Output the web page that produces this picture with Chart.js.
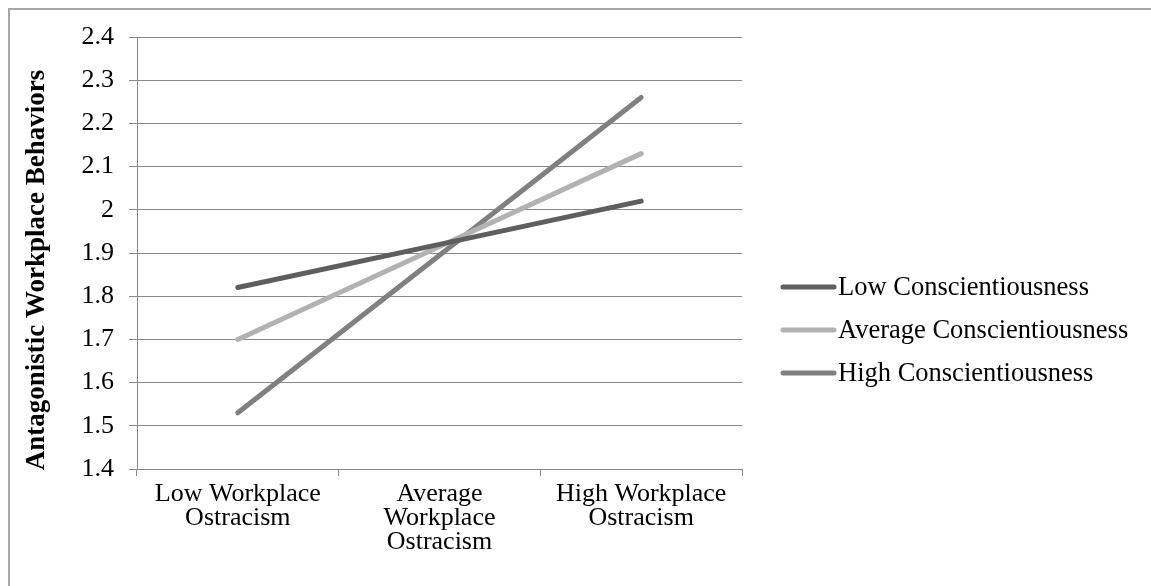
<!DOCTYPE html>
<html>
<head>
<meta charset="utf-8">
<script src="https://cdn.jsdelivr.net/npm/chart.js@4.4.1/dist/chart.umd.min.js"></script>
<style>
  html, body { margin: 0; padding: 0; background: #fff; }
  #wrap { position: relative; width: 1151px; height: 586px; overflow: hidden; }
  #frame { position: absolute; left: 8px; top: 8px; width: 1200px; height: 700px;
           border-left: 2px solid #a6a6a6; border-top: 2px solid #a6a6a6; box-sizing: border-box; }
  canvas { position: absolute; left: 0; top: 0; }
</style>
</head>
<body>
<div id="wrap">
  <div id="frame"></div>
  <canvas id="c" width="1151" height="586"></canvas>
</div>
<script>
// Categories (x axis) and the three moderator lines
const categories = [
  ['Low Workplace', 'Ostracism'],
  ['Average', 'Workplace', 'Ostracism'],
  ['High Workplace', 'Ostracism']
];
const seriesNames = ['Low Conscientiousness', 'Average Conscientiousness', 'High Conscientiousness'];
const lowValues = [1.82, 1.92, 2.02];
const averageValues = [1.70, 1.915, 2.13];
const highValues = [1.53, 1.895, 2.26];
const yTickLabels = ['1.4', '1.5', '1.6', '1.7', '1.8', '1.9', '2', '2.1', '2.2', '2.3', '2.4'];
const yTitle = 'Antagonistic Workplace Behaviors';

const FONT = '"Liberation Serif", "Times New Roman", serif';
const GRID = '#8a8a8a';
const colors = ['#5e5e5e', '#b2b2b2', '#808080'];

// Legend to the right of the plot, one line sample per series
const sideLegend = {
  id: 'sideLegend',
  afterDraw(chart) {
    const ctx = chart.ctx;
    ctx.save();
    chart.data.datasets.forEach((ds, i) => {
      const y = 287 + i * 43;
      ctx.strokeStyle = ds.borderColor;
      ctx.lineWidth = 5;
      ctx.lineCap = 'round';
      ctx.beginPath();
      ctx.moveTo(783, y);
      ctx.lineTo(834, y);
      ctx.stroke();
      ctx.fillStyle = '#000';
      ctx.font = '26.5px ' + FONT;
      ctx.textBaseline = 'middle';
      ctx.textAlign = 'left';
      ctx.fillText(ds.label, 838, y + 1);
    });
    ctx.restore();
  }
};

// Rotated value-axis title
const axisTitle = {
  id: 'axisTitle',
  afterDraw(chart) {
    const ctx = chart.ctx;
    ctx.save();
    ctx.translate(37, 270);
    ctx.rotate(-Math.PI / 2);
    ctx.fillStyle = '#000';
    ctx.font = 'bold 27px ' + FONT;
    ctx.textAlign = 'center';
    ctx.textBaseline = 'middle';
    ctx.fillText(yTitle, 0, 0);
    ctx.restore();
  }
};

const datasets = [lowValues, averageValues, highValues].map((vals, i) => ({
  label: seriesNames[i],
  data: vals,
  borderColor: colors[i],
  backgroundColor: colors[i],
  borderWidth: 5,
  borderCapStyle: 'round',
  borderJoinStyle: 'round',
  pointRadius: 0,
  pointHoverRadius: 0,
  tension: 0,
  fill: false
}));

new Chart(document.getElementById('c'), {
  type: 'line',
  data: { labels: categories, datasets },
  options: {
    responsive: false,
    animation: false,
    devicePixelRatio: 1,
    layout: { padding: { left: 0, right: 409, top: 37, bottom: 0 } },
    plugins: { legend: { display: false }, tooltip: { enabled: false } },
    scales: {
      x: {
        offset: true,
        afterFit(s) { s.height = 117; },
        border: { display: true, color: GRID, width: 1 },
        grid: { offset: true, drawOnChartArea: false, drawTicks: true, tickLength: 7, color: GRID },
        ticks: {
          color: '#000',
          padding: 6,
          maxRotation: 0,
          autoSkip: false,
          font: { family: FONT, size: 26, lineHeight: 24 / 26 }
        }
      },
      y: {
        min: 1.4,
        max: 2.4,
        afterFit(s) { s.width = 137; },
        border: { display: true, color: GRID, width: 1 },
        grid: { color: GRID, lineWidth: 1, drawTicks: true, tickLength: 8 },
        ticks: {
          stepSize: 0.1,
          color: '#000',
          padding: 15,
          font: { family: FONT, size: 26 },
          callback(v, idx) { return yTickLabels[idx]; }
        }
      }
    }
  },
  plugins: [sideLegend, axisTitle]
});
</script>
</body>
</html>
